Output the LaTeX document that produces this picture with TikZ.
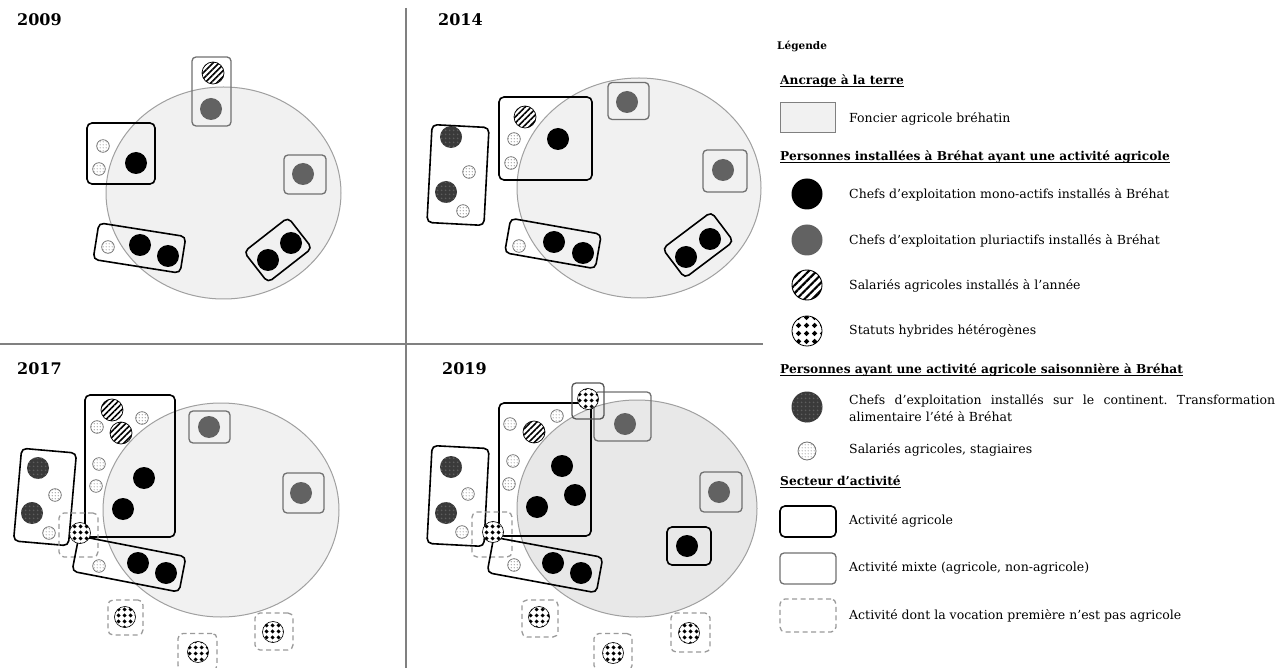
\documentclass[tikz,border=0pt]{standalone}
\usepackage{fontspec}
\setmainfont{DejaVu Serif}
\usetikzlibrary{patterns,patterns.meta}

\definecolor{landfill}{HTML}{F1F1F1}
\definecolor{landfillb}{HTML}{E8E8E8}
\definecolor{landdraw}{HTML}{A0A0A0}
\definecolor{pluricol}{HTML}{626262}
\definecolor{mixdraw}{HTML}{707070}
\definecolor{hybdraw}{HTML}{555555}
\definecolor{dashdraw}{HTML}{9A9A9A}
\definecolor{darkseas}{HTML}{3A3A3A}
\definecolor{darkdot}{HTML}{5E5E5E}
\definecolor{stagdraw}{HTML}{707070}
\definecolor{stagdot}{HTML}{9A9A9A}
\definecolor{divider}{HTML}{808080}

\pgfdeclarepatternformonly{hybS}{\pgfpointorigin}{\pgfqpoint{5.5pt}{5.5pt}}{\pgfqpoint{5.5pt}{5.5pt}}{%
  \pgfpathmoveto{\pgfqpoint{2.75pt}{0.6pt}}\pgfpathlineto{\pgfqpoint{4.9pt}{2.75pt}}%
  \pgfpathlineto{\pgfqpoint{2.75pt}{4.9pt}}\pgfpathlineto{\pgfqpoint{0.6pt}{2.75pt}}%
  \pgfpathclose\pgfusepath{fill}}
\pgfdeclarepatternformonly{hybL}{\pgfpointorigin}{\pgfqpoint{7.5pt}{7.5pt}}{\pgfqpoint{7.5pt}{7.5pt}}{%
  \pgfpathmoveto{\pgfqpoint{3.75pt}{0.9pt}}\pgfpathlineto{\pgfqpoint{6.6pt}{3.75pt}}%
  \pgfpathlineto{\pgfqpoint{3.75pt}{6.6pt}}\pgfpathlineto{\pgfqpoint{0.9pt}{3.75pt}}%
  \pgfpathclose\pgfusepath{fill}}
\pgfdeclarepatternformonly{smalldots}{\pgfpointorigin}{\pgfqpoint{3pt}{3pt}}{\pgfqpoint{3pt}{3pt}}{%
  \pgfpathcircle{\pgfqpoint{1.5pt}{1.5pt}}{0.75pt}\pgfusepath{fill}}
\pgfdeclarepatternformonly{darkdots}{\pgfpointorigin}{\pgfqpoint{4pt}{4pt}}{\pgfqpoint{4pt}{4pt}}{%
  \pgfpathcircle{\pgfqpoint{2pt}{2pt}}{1.1pt}\pgfusepath{fill}}

\tikzset{
  land/.style={fill=landfill, draw=landdraw, line width=1pt},
  landb/.style={fill=landfillb, draw=landdraw, line width=1pt},
  salst/.style={line width=0.7pt, draw=black, preaction={fill=white},
    pattern={Lines[angle=45,distance=4.2pt,line width=1.6pt]}},
  salL/.style={line width=0.9pt, draw=black, preaction={fill=white},
    pattern={Lines[angle=45,distance=5.6pt,line width=2.2pt]}},
  hybst/.style={line width=0.6pt, draw=black, preaction={fill=white}, pattern=hybS},
  hybLst/.style={line width=0.8pt, draw=black, preaction={fill=white}, pattern=hybL},
  saisst/.style={fill=darkseas, postaction={pattern=darkdots, pattern color=darkdot}},
  stagst/.style={line width=0.7pt, draw=stagdraw, preaction={fill=white},
    pattern=smalldots, pattern color=stagdot},
  boxbase/.style={rectangle, inner sep=0pt, outer sep=0pt},
  agri/.style={boxbase, draw=black, line width=1.6pt, rounded corners=5pt},
  mixte/.style={boxbase, draw=mixdraw, line width=1.3pt, rounded corners=4pt},
  mixteh/.style={boxbase, draw=hybdraw, line width=1.3pt, rounded corners=4pt},
  nonagri/.style={boxbase, draw=dashdraw, line width=1.3pt, dash pattern=on 5pt off 3.5pt, rounded corners=5pt},
  lbl/.style={inner sep=0pt, anchor=mid west, font=\fontsize{12.5}{17}\selectfont},
  hd/.style={inner sep=0pt, anchor=mid west, font=\fontsize{12.2}{15}\selectfont\bfseries},
  yr/.style={inner sep=0pt, anchor=mid west, font=\fontsize{16}{20}\selectfont\bfseries},
  divline/.style={draw=divider, line width=1.2pt},
  uline/.style={line width=0.8pt}
}

\newcommand\cMono[2]{\fill[black] (#1,#2) circle[radius=11pt];}
\newcommand\cPluri[2]{\fill[pluricol] (#1,#2) circle[radius=11pt];}
\newcommand\cSal[2]{\draw[salst] (#1,#2) circle[radius=11pt];}
\newcommand\cHyb[2]{\draw[hybst] (#1,#2) circle[radius=10.5pt];}
\newcommand\cSais[2]{\fill[saisst] (#1,#2) circle[radius=11pt];}
\newcommand\cStag[2]{\draw[stagst] (#1,#2) circle[radius=6.3pt];}

\begin{document}
\frenchspacing
\begin{tikzpicture}[x=1pt,y=-1pt]
\useasboundingbox (0,0) rectangle (1288,668);

% dividers
\coordinate (vtop) at (406,8);
\coordinate (vbot) at (406,668);
\coordinate (hl) at (0,344);
\coordinate (hr) at (763,344);
\draw[divline] (vtop) -- (vbot);
\draw[divline] (hl) -- (hr);

% titles
\node[yr] (y09) at (17,23) {2009};
\node[yr] (y14) at (438,23) {2014};
\node[yr] (y17) at (17,372) {2017};
\node[yr] (y19) at (442,372) {2019};

% ================= 2009
\draw[land] (223.5,193) ellipse[x radius=117.5pt, y radius=106pt];
\cSal{213}{73} \cPluri{211}{109}
\cStag{103}{146} \cStag{99}{169} \cMono{136}{163}
\cPluri{303}{174}
\cStag{108}{247} \cMono{140}{245} \cMono{168}{256}
\cMono{268}{260} \cMono{291}{243}
\node[mixte, minimum width=39pt, minimum height=69pt] (a1) at (211.5,91.5) {};
\node[agri, minimum width=68pt, minimum height=61pt] (a2) at (121,153.5) {};
\node[mixte, minimum width=42pt, minimum height=39pt] (a3) at (305,174.5) {};
\node[agri, minimum width=88pt, minimum height=37pt, rotate=-9] (a4) at (139.5,248) {};
\node[agri, minimum width=56pt, minimum height=39pt, rotate=38] (a5) at (278,250) {};

% ================= 2014
\draw[land] (639,188) ellipse[x radius=122pt, y radius=110pt];
\cPluri{627}{102} \cPluri{723}{170}
\cSal{525}{117} \cStag{514}{139} \cStag{511}{163} \cMono{558}{139}
\cSais{451}{137} \cSais{446}{192} \cStag{469}{172} \cStag{463}{211}
\cStag{519}{246} \cMono{554}{242} \cMono{583}{253}
\cMono{686}{257} \cMono{710}{239}
\node[mixte, minimum width=41pt, minimum height=37pt] (b1) at (628.5,101) {};
\node[mixte, minimum width=44pt, minimum height=42pt] (b2) at (725,171) {};
\node[agri, minimum width=93pt, minimum height=83pt] (b3) at (545.5,138.5) {};
\node[agri, minimum width=57pt, minimum height=98pt, rotate=-3] (b4) at (458,175) {};
\node[agri, minimum width=92pt, minimum height=35pt, rotate=-10] (b5) at (553,243.5) {};
\node[agri, minimum width=61pt, minimum height=37pt, rotate=37] (b6) at (698,245) {};

% ================= 2017
\draw[land] (221,510) ellipse[x radius=118pt, y radius=107pt];
\cPluri{209}{427} \cPluri{301}{493}
\cSal{112}{410} \cSal{121}{433}
\cStag{142}{418} \cStag{97}{427} \cStag{99}{464} \cStag{96}{486}
\cMono{144}{478} \cMono{123}{509}
\cSais{38}{468} \cSais{32}{513} \cStag{55}{495} \cStag{49}{533}
\cStag{99}{566} \cMono{138}{563} \cMono{166}{573}
\node[mixte, minimum width=41pt, minimum height=32pt] (c1) at (209.5,427) {};
\node[mixte, minimum width=41pt, minimum height=40pt] (c2) at (303.5,493) {};
\node[agri, minimum width=90pt, minimum height=142pt] (c3) at (130,466) {};
\node[agri, minimum width=55pt, minimum height=93pt, rotate=-5] (c4) at (45,497) {};
\node[nonagri, minimum width=39pt, minimum height=44pt] (c5) at (78.5,535) {};
\node[agri, minimum width=109pt, minimum height=36pt, rotate=-11] (c6) at (129,564) {};
\cHyb{80}{533}
\cHyb{125}{617} \cHyb{198}{652} \cHyb{273}{632}
\node[nonagri, minimum width=35pt, minimum height=35pt] (c7) at (125.5,617.5) {};
\node[nonagri, minimum width=39pt, minimum height=37pt] (c8) at (197.5,652) {};
\node[nonagri, minimum width=38pt, minimum height=37pt] (c9) at (274,631.5) {};

% ================= 2019
\draw[landb] (637,508.5) ellipse[x radius=120pt, y radius=108.5pt];
\cPluri{625}{424}
\cStag{510}{424} \cStag{557}{416} \cStag{513}{461} \cStag{509}{484}
\cSal{534}{432} \cMono{562}{466} \cMono{575}{495} \cMono{537}{507}
\cSais{451}{467} \cSais{446}{513} \cStag{468}{494} \cStag{462}{532}
\cStag{514}{565} \cMono{553}{563} \cMono{581}{573}
\cPluri{719}{492} \cMono{687}{546}
\node[mixte, minimum width=57pt, minimum height=49pt] (d1) at (622.5,416.5) {};
\node[agri, minimum width=92pt, minimum height=133pt] (d2) at (545,469.5) {};
\node[agri, minimum width=57pt, minimum height=98pt, rotate=-3] (d3) at (458,496) {};
\node[nonagri, minimum width=40pt, minimum height=45pt] (d4) at (492,534.5) {};
\node[agri, minimum width=111pt, minimum height=36pt, rotate=-10.5] (d5) at (545,565) {};
\node[mixte, minimum width=42pt, minimum height=40pt] (d6) at (721,492) {};
\node[agri, minimum width=44pt, minimum height=38pt] (d7) at (689,546) {};
\cHyb{588}{399} \cHyb{493}{532}
\node[mixteh, minimum width=32pt, minimum height=36pt] (d8) at (588,401) {};
\cHyb{539}{617} \cHyb{613}{653} \cHyb{689}{633}
\node[nonagri, minimum width=36pt, minimum height=37pt] (d9) at (540,618.5) {};
\node[nonagri, minimum width=38pt, minimum height=37pt] (d10) at (613,652) {};
\node[nonagri, minimum width=39pt, minimum height=39pt] (d11) at (690.5,632.5) {};

% ================= Legend
\node[hd, font=\fontsize{10.5}{13}\selectfont\bfseries] (lg) at (777,47) {Légende};

\node[hd] (h1) at (780,82) {Ancrage à la terre};
\draw[uline] ([yshift=-2.2pt]h1.base west) -- ([yshift=-2.2pt]h1.base east);
\draw[fill=landfill, draw=divider, line width=1pt] (780,103) rectangle (835,133);
\node[lbl] (t1) at (849,120) {Foncier agricole bréhatin};

\node[hd] (h2) at (780,158) {Personnes installées à Bréhat ayant une activité agricole};
\draw[uline] ([yshift=-2.2pt]h2.base west) -- ([yshift=-2.2pt]h2.base east);
\fill[black] (807,194) circle[radius=15.5pt];
\node[lbl] (t2) at (849,196) {Chefs d’exploitation mono-actifs installés à Bréhat};
\fill[pluricol] (807,240) circle[radius=15.5pt];
\node[lbl] (t3) at (849,242) {Chefs d’exploitation pluriactifs installés à Bréhat};
\draw[salL] (807,285) circle[radius=15pt];
\node[lbl] (t4) at (849,287) {Salariés agricoles installés à l’année};
\draw[hybLst] (807,331) circle[radius=15pt];
\node[lbl] (t5) at (849,332) {Statuts hybrides hétérogènes};

\node[hd] (h3) at (780,371) {Personnes ayant une activité agricole saisonnière à Bréhat};
\draw[uline] ([yshift=-2.2pt]h3.base west) -- ([yshift=-2.2pt]h3.base east);
\fill[saisst] (807,407) circle[radius=15.5pt];
\node[lbl, anchor=north west, text width=426pt, align=justify] (t6) at (849,394.5)
  {Chefs d’exploitation installés sur le continent. Transformation\linebreak alimentaire l’été à Bréhat};
\draw[stagst, line width=0.8pt] (807,451) circle[radius=9pt];
\node[lbl] (t7) at (849,451) {Salariés agricoles, stagiaires};

\node[hd] (h4) at (780,483) {Secteur d’activité};
\draw[uline] ([yshift=-2.2pt]h4.base west) -- ([yshift=-2.2pt]h4.base east);
\node[agri, minimum width=56pt, minimum height=31pt] (l1) at (808,521.5) {};
\node[lbl] (t8) at (849,522) {Activité agricole};
\node[mixte, minimum width=56pt, minimum height=31pt] (l2) at (808,568.5) {};
\node[lbl] (t9) at (849,569) {Activité mixte (agricole, non-agricole)};
\node[nonagri, minimum width=56pt, minimum height=33pt] (l3) at (808,615.5) {};
\node[lbl] (t10) at (849,617) {Activité dont la vocation première n’est pas agricole};
\end{tikzpicture}
\end{document}
